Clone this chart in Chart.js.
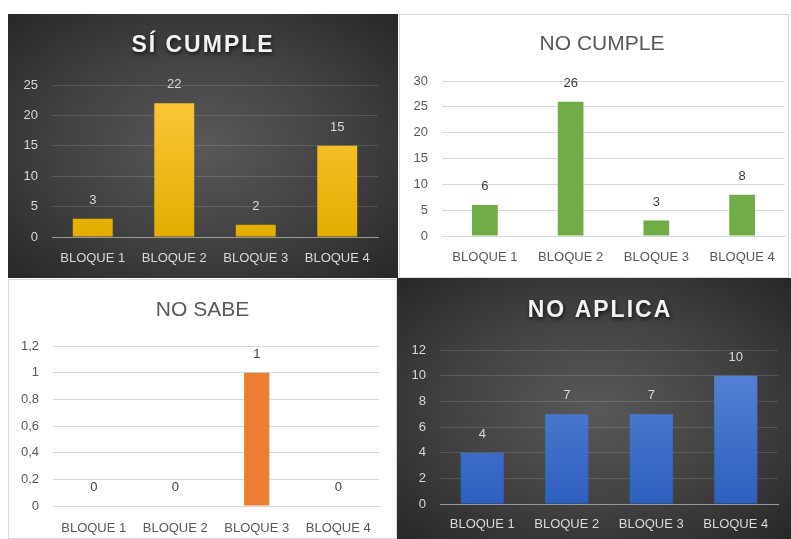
<!DOCTYPE html>
<html>
<head>
<meta charset="utf-8">
<script src="https://cdn.jsdelivr.net/npm/chart.js@4.4.1/dist/chart.umd.min.js"></script>
<style>
  body { margin: 0; background: #fff; width: 791px; height: 539px; position: relative; overflow: hidden; }
  .panel { position: absolute; box-sizing: border-box; }
  .panel canvas { display: block; }
  .dark { background: radial-gradient(ellipse at 50% 50%, #595959 0%, #404040 55%, #272727 100%); }
  .light { background: #fff; outline: 1px solid #d9d9d9; outline-offset: -1px; }
</style>
</head>
<body>
<div class="panel dark" style="left:8px;top:14px;width:390px;height:264px"><canvas id="si-cumple" width="390" height="264"></canvas></div>
<div class="panel light" style="left:399px;top:14px;width:390px;height:264px"><canvas id="no-cumple" width="390" height="264"></canvas></div>
<div class="panel light" style="left:8px;top:279px;width:389px;height:260px"><canvas id="no-sabe" width="389" height="260"></canvas></div>
<div class="panel dark" style="left:397px;top:278px;width:394px;height:261px"><canvas id="no-aplica" width="394" height="261"></canvas></div>

<script>
'use strict';

// datos
const categories = ['BLOQUE 1', 'BLOQUE 2', 'BLOQUE 3', 'BLOQUE 4'];
const siCumple = [3, 22, 2, 15];
const noCumple = [6, 26, 3, 8];
const noSabe = [0, 0, 1, 0];
const noAplica = [4, 7, 7, 10];

// ejes y: máximo y paso
const siCumpleAxis = [25, 5];
const noCumpleAxis = [30, 5];
const noSabeAxis = [1.2, 0.2];
const noAplicaAxis = [12, 2];

const FONT = "'Liberation Sans', Arial, sans-serif";

// etiquetas de valor encima de las barras
const valueLabels = {
  id: 'valueLabels',
  afterDatasetsDraw(chart, args, opts) {
    const ctx = chart.ctx;
    const meta = chart.getDatasetMeta(0);
    const values = chart.data.datasets[0].data;
    ctx.save();
    ctx.font = '13px ' + FONT;
    ctx.fillStyle = opts.color;
    ctx.textAlign = 'center';
    ctx.textBaseline = 'middle';
    meta.data.forEach((bar, i) => {
      ctx.fillText(String(values[i]), bar.x, bar.y - 18.5);
    });
    ctx.restore();
  }
};

// título (con sombra en los paneles oscuros)
const panelTitle = {
  id: 'panelTitle',
  afterDraw(chart, args, opts) {
    const ctx = chart.ctx;
    ctx.save();
    ctx.font = opts.font;
    ctx.fillStyle = opts.color;
    ctx.textAlign = 'center';
    ctx.textBaseline = 'middle';
    if (opts.spacing) ctx.letterSpacing = opts.spacing + 'px';
    if (opts.shadow) {
      ctx.shadowColor = 'rgba(0,0,0,0.75)';
      ctx.shadowBlur = 4;
      ctx.shadowOffsetY = 2;
      ctx.shadowOffsetX = 1;
    }
    ctx.fillText(opts.text, chart.width / 2 + opts.dx, opts.y);
    ctx.restore();
  }
};

function gradient(top, bottom) {
  return (c) => {
    const area = c.chart.chartArea;
    if (!area) return bottom;
    const g = c.chart.ctx.createLinearGradient(0, area.top, 0, area.bottom);
    g.addColorStop(0, top);
    g.addColorStop(1, bottom);
    return g;
  };
}

function makeChart(id, values, axis, s) {
  const dark = s.dark;
  const text = dark ? '#d9d9d9' : '#595959';
  const grid = dark ? 'rgba(255,255,255,0.13)' : '#d9d9d9';
  const axisLine = dark ? '#999999' : '#d9d9d9';

  return new Chart(document.getElementById(id).getContext('2d'), {
    type: 'bar',
    data: {
      labels: categories,
      datasets: [{
        data: values,
        backgroundColor: s.color,
        borderWidth: 0,
        barPercentage: s.bar,
        categoryPercentage: 1,
      }]
    },
    options: {
      responsive: false,
      animation: false,
      layout: { padding: s.pad },
      scales: {
        x: {
          grid: { display: false },
          border: { display: true, color: axisLine, width: 1 },
          ticks: { color: text, font: { family: FONT, size: 13 }, padding: s.xPad, maxRotation: 0 },
          afterFit: (scale) => { scale.height = 30; },
        },
        y: {
          min: 0,
          max: axis[0],
          border: { display: false },
          grid: { color: grid, drawTicks: false, lineWidth: 1 },
          ticks: {
            stepSize: axis[1],
            color: text,
            font: { family: FONT, size: 13 },
            padding: 14,
            callback: (v) => Number(v.toFixed(1)).toString().replace('.', ','),
          },
          afterFit: (scale) => { scale.width = 34; },
        }
      },
      plugins: {
        legend: { display: false },
        tooltip: { enabled: false },
        valueLabels: { color: dark ? '#d9d9d9' : '#404040' },
        panelTitle: s.title,
      }
    },
    plugins: [valueLabels, panelTitle],
  });
}

makeChart('si-cumple', siCumple, siCumpleAxis, {
  dark: true,
  color: gradient('#ffc83d', '#e3ae00'),
  bar: 0.49,
  xPad: 6,
  pad: { left: 10, right: 20, top: 71, bottom: 11 },
  title: { text: 'SÍ CUMPLE', font: 'bold 23px ' + FONT, color: '#f2f2f2', spacing: 2, shadow: true, y: 32, dx: 0 },
});

makeChart('no-cumple', noCumple, noCumpleAxis, {
  dark: false,
  color: '#70ad47',
  bar: 0.30,
  xPad: 6,
  pad: { left: 9, right: 4, top: 67, bottom: 12 },
  title: { text: 'NO CUMPLE', font: '21px ' + FONT, color: '#595959', spacing: 0, shadow: false, y: 30, dx: 8 },
});

makeChart('no-sabe', noSabe, noSabeAxis, {
  dark: false,
  color: '#ed7d31',
  bar: 0.31,
  xPad: 7,
  pad: { left: 11, right: 18, top: 67, bottom: 3 },
  title: { text: 'NO SABE', font: '21px ' + FONT, color: '#595959', spacing: 0, shadow: false, y: 31, dx: 0 },
});

makeChart('no-aplica', noAplica, noAplicaAxis, {
  dark: true,
  color: gradient('#5b87d8', '#2d5fbf'),
  bar: 0.51,
  xPad: 5,
  pad: { left: 9, right: 13, top: 72, bottom: 5 },
  title: { text: 'NO APLICA', font: 'bold 23px ' + FONT, color: '#f2f2f2', spacing: 2, shadow: true, y: 33, dx: 6 },
});
</script>
</body>
</html>
